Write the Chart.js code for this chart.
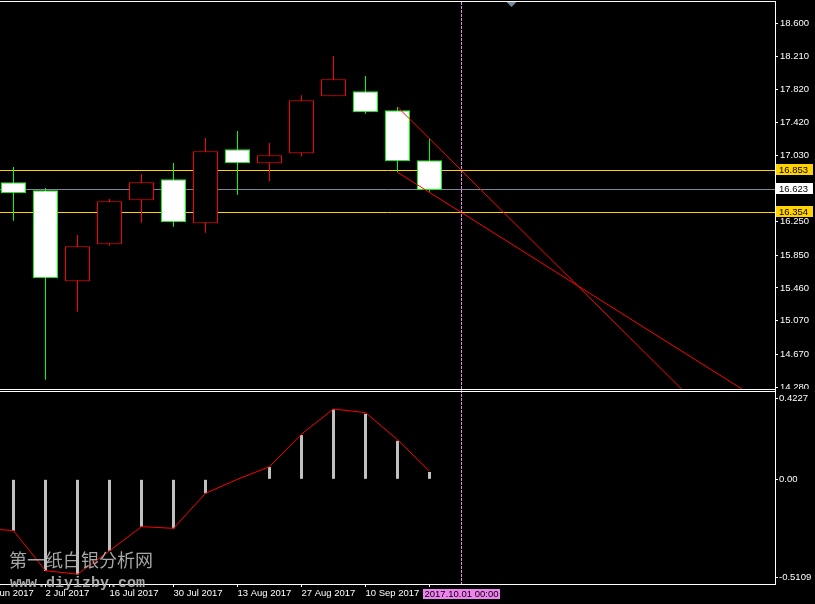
<!DOCTYPE html>
<html><head><meta charset="utf-8">
<script src="https://cdn.jsdelivr.net/npm/chart.js@4.4.1/dist/chart.umd.min.js"></script>
<style>html,body{margin:0;padding:0;background:#000;overflow:hidden}canvas{display:block}</style>
</head><body>
<canvas id="c" width="815" height="604"></canvas>
<script>
// ---- data (index = week number) ----
const weekLabels = ['18 Jun 2017','25 Jun 2017','2 Jul 2017','9 Jul 2017','16 Jul 2017','23 Jul 2017','30 Jul 2017','6 Aug 2017','13 Aug 2017','20 Aug 2017','27 Aug 2017','3 Sep 2017','10 Sep 2017','17 Sep 2017','24 Sep 2017','1 Oct 2017'];
const openP  = [null,16.713,16.618,15.538,15.977,16.499,16.749,16.226,17.105,16.938,17.057,17.734,17.793,17.567,16.974];
const highP  = [null,16.895,16.645,16.088,16.515,16.811,16.942,17.239,17.322,17.179,17.745,18.212,17.975,17.607,17.235];
const lowP   = [null,16.257,14.370,15.177,15.961,16.234,16.186,16.115,16.566,16.725,17.022,17.734,17.527,16.832,16.601];
const closeP = [null,16.582,15.574,15.953,16.487,16.713,16.238,17.081,16.938,17.033,17.686,17.935,17.544,16.962,16.623];
const macdHist   = [-0.251,-0.268,-0.479,-0.497,-0.373,-0.247,-0.256,-0.073,-0.003,0.064,0.231,0.365,0.342,0.201,0.038];
const macdSignal = [-0.255,-0.268,-0.477,-0.495,-0.373,-0.247,-0.256,-0.073,0.000,0.066,0.236,0.367,0.348,0.207,0.042];
const priceTicks = [18.600,18.210,17.820,17.420,17.030,16.250,15.850,15.460,15.070,14.670,14.280];
const macdTicks  = [0.4227,0,-0.5109];
const levelPrices = [16.853,16.354];
const bidPrice = 16.623;
const trendStartWeek = 13, trendEndWeek = 15;
const trendStartPrice = [17.607,16.832];
const trendEndPrice   = [16.853,16.354];
const vLineWeek = 15;
const vLineLabel = '2017.10.01 00:00';
const watermarkCN = '第一纸白银分析网';
const watermarkURL = 'www.diyizby.com';

// ---- styles ----
const AXFONT = {family:'Liberation Sans', size:9.5};
const FONT = '9.5px "Liberation Sans", Arial, sans-serif';
const GOLD = '#ffd200', BID = '#778899', BULL = '#ff0000', BEAR = '#00ff00';

const weeks = weekLabels.map((_, i) => i);
const candleWeeks = weeks.filter(w => openP[w] != null);
const isBear = w => closeP[w] < openP[w];

const overlay = {
  id: 'overlay',
  beforeDatasetsDraw(chart) {
    const {ctx, scales: {x, y}} = chart;
    ctx.save();
    ctx.lineWidth = 1;
    const hline = (p, c) => {
      const py = Math.floor(y.getPixelForValue(p)) + 0.5;
      ctx.strokeStyle = c; ctx.beginPath(); ctx.moveTo(x.left, py); ctx.lineTo(x.right, py); ctx.stroke();
    };
    hline(bidPrice, BID);
    levelPrices.forEach(p => hline(p, GOLD));
    ctx.restore();
  },
  afterDatasetsDraw(chart) {
    const {ctx, scales: {x, y}} = chart;
    ctx.save();
    ctx.beginPath(); ctx.rect(x.left, y.top, x.right - x.left, y.bottom - y.top); ctx.clip();
    ctx.strokeStyle = '#ff0000'; ctx.lineWidth = 1;
    trendStartPrice.forEach((p0, k) => {
      const x0 = x.getPixelForValue(trendStartWeek), y0 = y.getPixelForValue(p0);
      const x1 = x.getPixelForValue(trendEndWeek), y1 = y.getPixelForValue(trendEndPrice[k]);
      const t = (y.bottom + 4 - y0) / (y1 - y0);
      ctx.beginPath(); ctx.moveTo(x0, y0); ctx.lineTo(x0 + (x1 - x0) * t, y.bottom + 4); ctx.stroke();
    });
    ctx.restore();
  },
  afterDraw(chart) {
    const {ctx, chartArea: a, scales: {x, y, m}} = chart;
    ctx.save();
    // vertical dashed line
    const vx = Math.floor(x.getPixelForValue(vLineWeek)) + 0.5;
    ctx.strokeStyle = '#ee82ee'; ctx.lineWidth = 1; ctx.setLineDash([3, 1]);
    ctx.beginPath(); ctx.moveTo(vx, a.top); ctx.lineTo(vx, a.bottom); ctx.stroke();
    ctx.setLineDash([]);
    // clip main-axis labels at window bottom
    ctx.fillStyle = '#000';
    ctx.fillRect(a.right + 1, Math.round(y.bottom), 815 - a.right, 2);
    // window borders
    ctx.fillStyle = '#fff';
    ctx.fillRect(0, 1, a.right + 1, 1);
    ctx.fillRect(0, Math.round(y.bottom), a.right + 1, 1);
    ctx.fillRect(0, Math.round(m.top) + 2, a.right + 1, 1);
    // price boxes
    ctx.font = FONT; ctx.textBaseline = 'middle'; ctx.textAlign = 'left';
    const box = (p, bg) => {
      const row = Math.floor(y.getPixelForValue(p));
      ctx.fillStyle = bg; ctx.fillRect(a.right + 1, row - 6, 37, 11);
      ctx.fillStyle = '#000'; ctx.fillText(p.toFixed(3), a.right + 4, row + 0.5);
    };
    levelPrices.forEach(p => box(p, GOLD));
    box(bidPrice, '#ffffff');
    // vertical line time label
    ctx.fillStyle = '#ee82ee';
    ctx.fillRect(Math.round(vx - 38.5), a.bottom + 5, 77, 10);
    ctx.fillStyle = '#000'; ctx.textAlign = 'center';
    ctx.fillText(vLineLabel, vx, a.bottom + 10);
    // chart shift marker
    ctx.fillStyle = '#778899';
    ctx.beginPath(); ctx.moveTo(506.5, 2); ctx.lineTo(516.5, 2); ctx.lineTo(511.5, 7); ctx.closePath(); ctx.fill();
    // watermark
    ctx.fillStyle = 'rgba(185,185,185,0.9)'; ctx.textAlign = 'left'; ctx.textBaseline = 'alphabetic';
    ctx.font = '18px "Noto Sans CJK SC"';
    ctx.fillText(watermarkCN, 9, 567);
    ctx.font = 'bold 15px "Liberation Mono"';
    ctx.fillText(watermarkURL, 10, 587);
    ctx.restore();
  }
};

new Chart(document.getElementById('c'), {
  type: 'bar',
  data: {
    datasets: [
      {type: 'line', label: 'Signal', yAxisID: 'm', order: 0,
       data: weeks.map(w => ({x: w, y: macdSignal[w]})),
       borderColor: '#ff0000', borderWidth: 1, pointRadius: 0, tension: 0, fill: false},
      {type: 'bar', label: 'Body', yAxisID: 'y', order: 1,
       data: candleWeeks.map(w => ({x: w, y: [openP[w], closeP[w]]})),
       backgroundColor: candleWeeks.map(w => isBear(w) ? '#ffffff' : '#000000'),
       borderColor: candleWeeks.map(w => isBear(w) ? BEAR : BULL),
       borderWidth: 1, borderSkipped: false, barThickness: 25, grouped: false, inflateAmount: 0},
      {type: 'bar', label: 'Wick', yAxisID: 'y', order: 2,
       data: candleWeeks.map(w => ({x: w, y: [lowP[w], highP[w]]})),
       backgroundColor: candleWeeks.map(w => isBear(w) ? BEAR : BULL),
       borderWidth: 0, barThickness: 1, grouped: false, inflateAmount: 0},
      {type: 'bar', label: 'MACD', yAxisID: 'm', order: 3,
       data: weeks.map(w => ({x: w, y: macdHist[w]})),
       backgroundColor: '#c0c0c0', borderWidth: 0, barThickness: 3, grouped: false, inflateAmount: 0}
    ]
  },
  options: {
    responsive: false, animation: false, devicePixelRatio: 1, events: [],
    layout: {padding: {top: 2, left: 0, right: 0, bottom: 0}},
    plugins: {legend: {display: false}, tooltip: {enabled: false}},
    scales: {
      x: {
        type: 'linear', position: 'bottom', min: 0.578125, max: 24.796875, offset: false, bounds: 'data',
        afterBuildTicks: s => { s.ticks = weeks.filter(w => w % 2 === 0).map(w => ({value: w})); },
        ticks: {callback: v => weekLabels[v], align: 'start', color: '#fff', font: AXFONT, padding: 1, maxRotation: 0, autoSkip: false},
        grid: {display: true, drawOnChartArea: false, drawTicks: true, tickLength: 3, color: '#fff', offset: false},
        border: {display: true, color: '#fff'},
        afterFit: s => { s.height = 20; s.paddingLeft = 0; s.paddingRight = 0; }
      },
      y: {
        type: 'linear', axis: 'y', position: 'right', stack: 'win', stackWeight: 387,
        min: 14.260, max: 18.853, bounds: 'data', beginAtZero: false,
        afterBuildTicks: s => { s.ticks = priceTicks.map(v => ({value: v})); },
        ticks: {callback: v => v.toFixed(3), color: '#fff', font: AXFONT, padding: 2, autoSkip: false},
        grid: {display: true, drawOnChartArea: false, drawTicks: true, tickLength: 3, color: '#fff'},
        border: {display: true, color: '#fff'},
        afterFit: s => { s.width = 40; s.paddingTop = 0; s.paddingBottom = 0; }
      },
      m: {
        type: 'linear', axis: 'y', position: 'right', stack: 'win', stackWeight: 195,
        min: -0.5464, max: 0.4713, bounds: 'data', beginAtZero: false,
        afterBuildTicks: s => { s.ticks = macdTicks.map(v => ({value: v})); },
        ticks: {callback: v => v === 0 ? '0.00' : String(v), color: '#fff', font: AXFONT, padding: 1, autoSkip: false},
        grid: {display: true, drawOnChartArea: false, drawTicks: true, tickLength: 3, color: '#fff'},
        border: {display: true, color: '#fff'},
        afterFit: s => { s.width = 40; s.paddingTop = 0; s.paddingBottom = 0; }
      }
    }
  },
  plugins: [overlay]
});
</script>
</body></html>
